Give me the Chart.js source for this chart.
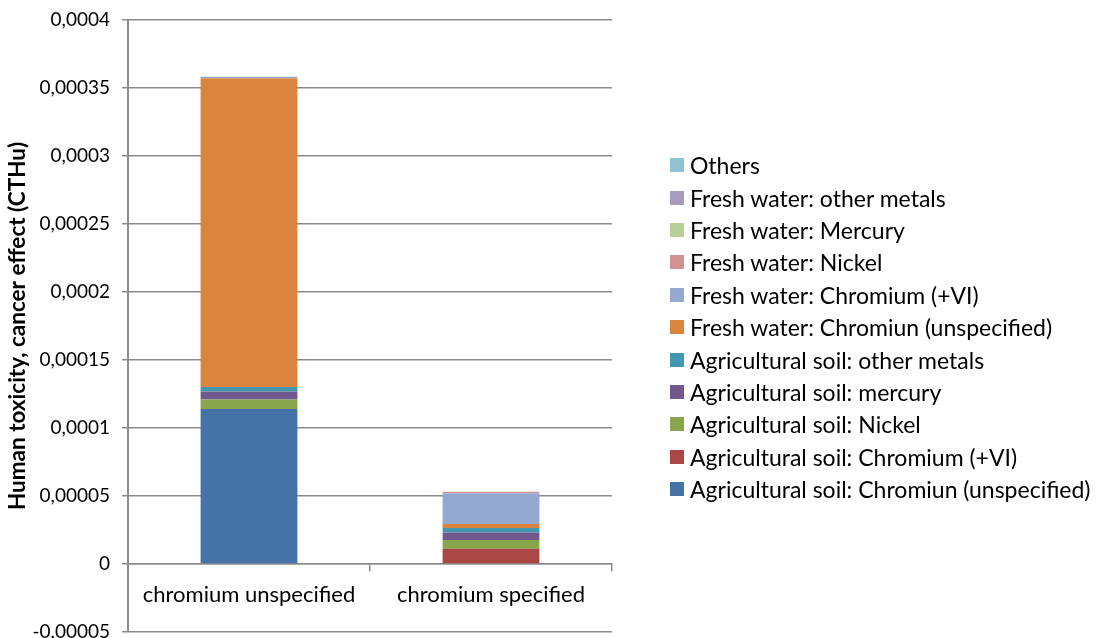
<!DOCTYPE html>
<html>
<head>
<meta charset="utf-8">
<script src="https://cdn.jsdelivr.net/npm/chart.js@4.4.1/dist/chart.umd.min.js"></script>
<style>
  html, body { margin: 0; padding: 0; background: #fff; }
  #wrap { position: relative; width: 1099px; height: 638px; }
  #legend { position: absolute; left: 670px; top: 149px; font-family: Lato, sans-serif; font-size: 23px; color: #000; }
  #legend .row { height: 32.4px; display: flex; align-items: center; white-space: nowrap; }
  #legend .box { width: 14px; height: 14px; margin-right: 6px; flex: none; }
</style>
</head>
<body>
<div id="wrap">
  <canvas id="chart" width="1099" height="638"></canvas>
  <div id="legend"></div>
</div>
<script>
// categories
const categories = ['chromium unspecified', 'chromium specified'];

// series, bottom of the stack first
const seriesNames = [
    'Agricultural soil: Chromiun (unspecified)',
    'Agricultural soil: Chromium (+VI)',
    'Agricultural soil: Nickel',
    'Agricultural soil: mercury',
    'Agricultural soil: other metals',
    'Fresh water: Chromiun (unspecified)',
    'Fresh water: Chromium (+VI)',
    'Fresh water: Nickel',
    'Fresh water: Mercury',
    'Fresh water: other metals',
    'Others'
];
const seriesColors = ['#4572A7', '#AA4643', '#89A54E', '#71588F', '#4198AF', '#DB843D',
    '#93A9CF', '#D19392', '#B9CD96', '#A99BBD', '#92C3D5'];

const soilChromUnspec = [0.000114, 0];
const soilChromVI = [0, 0.0000113];
const soilNickel = [0.0000070, 0.0000064];
const soilMercury = [0.0000059, 0.0000054];
const soilOther = [0.0000032, 0.0000034];
const waterChromUnspec = [0.000227, 0.0000029];
const waterChromVI = [0.0000011, 0.0000226];
const waterNickel = [0, 0.0000012];
const waterMercury = [0, 0];
const waterOther = [0, 0];
const others = [0, 0];

const seriesValues = [soilChromUnspec, soilChromVI, soilNickel, soilMercury, soilOther,
    waterChromUnspec, waterChromVI, waterNickel, waterMercury, waterOther, others];

// y ticks
const yMin = -0.00005;
const yMax = 0.0004;
const yStep = 0.00005;

const gridColor = '#8c8c8c';
const font = 'Lato, sans-serif';

const fmt = v => {
    const r = Number(v.toFixed(6));
    return r.toString().replace('.', ',');
};

const ctx = document.getElementById('chart').getContext('2d');
const chart = new Chart(ctx, {
    type: 'bar',
    data: {
        labels: categories,
        datasets: seriesNames.map((name, i) => ({
            label: name,
            data: seriesValues[i],
            backgroundColor: seriesColors[i],
            borderWidth: 0,
            categoryPercentage: 1,
            barPercentage: 0.4
        }))
    },
    options: {
        responsive: false,
        animation: false,
        layout: { padding: { left: 0, right: 487, top: 20, bottom: 6 } },
        plugins: {
            legend: { display: false },
            tooltip: { enabled: false }
        },
        scales: {
            x: {
                stacked: true,
                position: { y: 0 },
                grid: { drawOnChartArea: false, drawTicks: true, tickLength: 7, color: gridColor, lineWidth: 1.5 },
                border: { color: gridColor, width: 1.5 },
                ticks: { color: '#000', font: { family: font, size: 22 }, padding: 11 },
                afterFit: s => { s.height = 0; s.paddingLeft = 0; s.paddingRight = 0; }
            },
            y: {
                stacked: true,
                min: yMin,
                max: yMax,
                grid: { color: gridColor, lineWidth: 1.5, tickLength: 6 },
                border: { color: gridColor, width: 2 },
                ticks: {
                    stepSize: yStep,
                    color: '#000',
                    font: { family: font, size: 19 },
                    padding: 12,
                    callback: v => fmt(v)
                },
                title: {
                    display: true,
                    text: 'Human toxicity, cancer effect (CTHu)',
                    color: '#000',
                    font: { family: font, size: 22.5, weight: 'bold' },
                    padding: { top: 4, bottom: 0 }
                },
                afterFit: s => { s.width = 128; s.paddingTop = 0; s.paddingBottom = 0; }
            }
        }
    }
});

// legend, top entry is the last series
const legend = document.getElementById('legend');
chart.data.datasets.slice().reverse().forEach(ds => {
    const row = document.createElement('div');
    row.className = 'row';
    const box = document.createElement('span');
    box.className = 'box';
    box.style.background = ds.backgroundColor;
    row.appendChild(box);
    row.appendChild(document.createTextNode(ds.label));
    legend.appendChild(row);
});
</script>
</body>
</html>
